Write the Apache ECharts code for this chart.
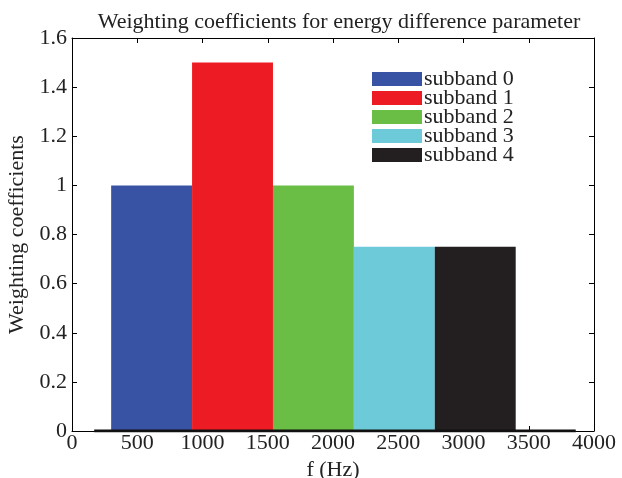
<!DOCTYPE html>
<html><head><meta charset="utf-8">
<script src="https://cdn.jsdelivr.net/npm/echarts@6/dist/echarts.min.js"></script>
<style>html,body{margin:0;padding:0;background:#fff}#c{width:622px;height:478px}</style>
</head><body><div id="c"></div>
<script>
var bandNames = ['subband 0','subband 1','subband 2','subband 3','subband 4'];
var bandEdges = [300, 920, 1540, 2160, 2780, 3400];
var bandValues = [1, 1.5, 1, 0.75, 0.75];
var bandColors = ['#3953a4','#ed1c24','#6abd45','#6dcbd9','#231f20'];
var baseline = [[170, 0], [3860, 0]];
var xTicks = [0,500,1000,1500,2000,2500,3000,3500,4000];
var yTicks = [0,0.2,0.4,0.6,0.8,1,1.2,1.4,1.6];

var FONT = '"Liberation Serif","Times New Roman",serif';
var chart = echarts.init(document.getElementById('c'), null, {renderer:'canvas'});

function renderBar(params, api){
  var x0 = api.value(0), x1 = api.value(1), v = api.value(2);
  var p0 = api.coord([x0, v]);
  var p1 = api.coord([x1, 0]);
  return {type:'rect', shape:{x:p0[0], y:p0[1], width:p1[0]-p0[0], height:p1[1]-p0[1]},
          style:{fill: api.visual('color')}};
}

var series = bandNames.map(function(n,i){
  return {name:n, type:'custom', renderItem:renderBar, itemStyle:{color:bandColors[i]},
    encode:{x:[0,1], y:2}, data:[[bandEdges[i], bandEdges[i+1], bandValues[i]]], z:2};
});
series.push({type:'line', data:baseline, symbol:'none', lineStyle:{color:'#111', width:3}, z:3, silent:true});

var axisCommon = {
  axisLine:{show:true, onZero:false, lineStyle:{color:'#000', width:1}},
  axisTick:{show:true, inside:true, length:5, lineStyle:{color:'#000'}},
  splitLine:{show:false}
};
chart.setOption({
  animation:false,
  backgroundColor:'#fff',
  title:{text:'Weighting coefficients for energy difference parameter', left:334, textAlign:'center', top:6,
    textStyle:{fontFamily:FONT, fontSize:22, fontWeight:'normal', color:'#222'}},
  legend:{orient:'vertical', left:367, top:63, itemWidth:50, itemHeight:14, itemGap:-3, icon:'rect',
    textStyle:{fontFamily:FONT, fontSize:22, color:'#222', padding:[0,0,0,-3]},
    data:bandNames},
  grid:{left:72, right:28, top:38, bottom:47, containLabel:false, outerBoundsMode:'none'},
  xAxis:[
    Object.assign({type:'value', min:0, max:4000, interval:500, position:'bottom',
      name:'f (Hz)', nameLocation:'middle', nameGap:25,
      nameTextStyle:{fontFamily:FONT, fontSize:22, color:'#222'},
      axisLabel:{fontFamily:FONT, fontSize:22, color:'#222', margin:1,
        formatter:function(v){return xTicks.indexOf(v)>=0?String(v):'';}}}, axisCommon),
    Object.assign({type:'value', min:0, max:4000, interval:500, position:'top', axisLabel:{show:false}}, axisCommon)
  ],
  yAxis:[
    Object.assign({type:'value', min:0, max:1.6, interval:0.2, position:'left',
      name:'Weighting coefficients', nameLocation:'middle', nameGap:38,
      nameTextStyle:{fontFamily:FONT, fontSize:22, color:'#222'},
      axisLabel:{fontFamily:FONT, fontSize:22, color:'#222', margin:5,
        formatter:function(v){var r=Math.round(v*10)/10; return yTicks.indexOf(r)>=0?String(r):'';}}}, axisCommon),
    Object.assign({type:'value', min:0, max:1.6, interval:0.2, position:'right', axisLabel:{show:false}}, axisCommon)
  ],
  series:series
});
</script></body></html>
